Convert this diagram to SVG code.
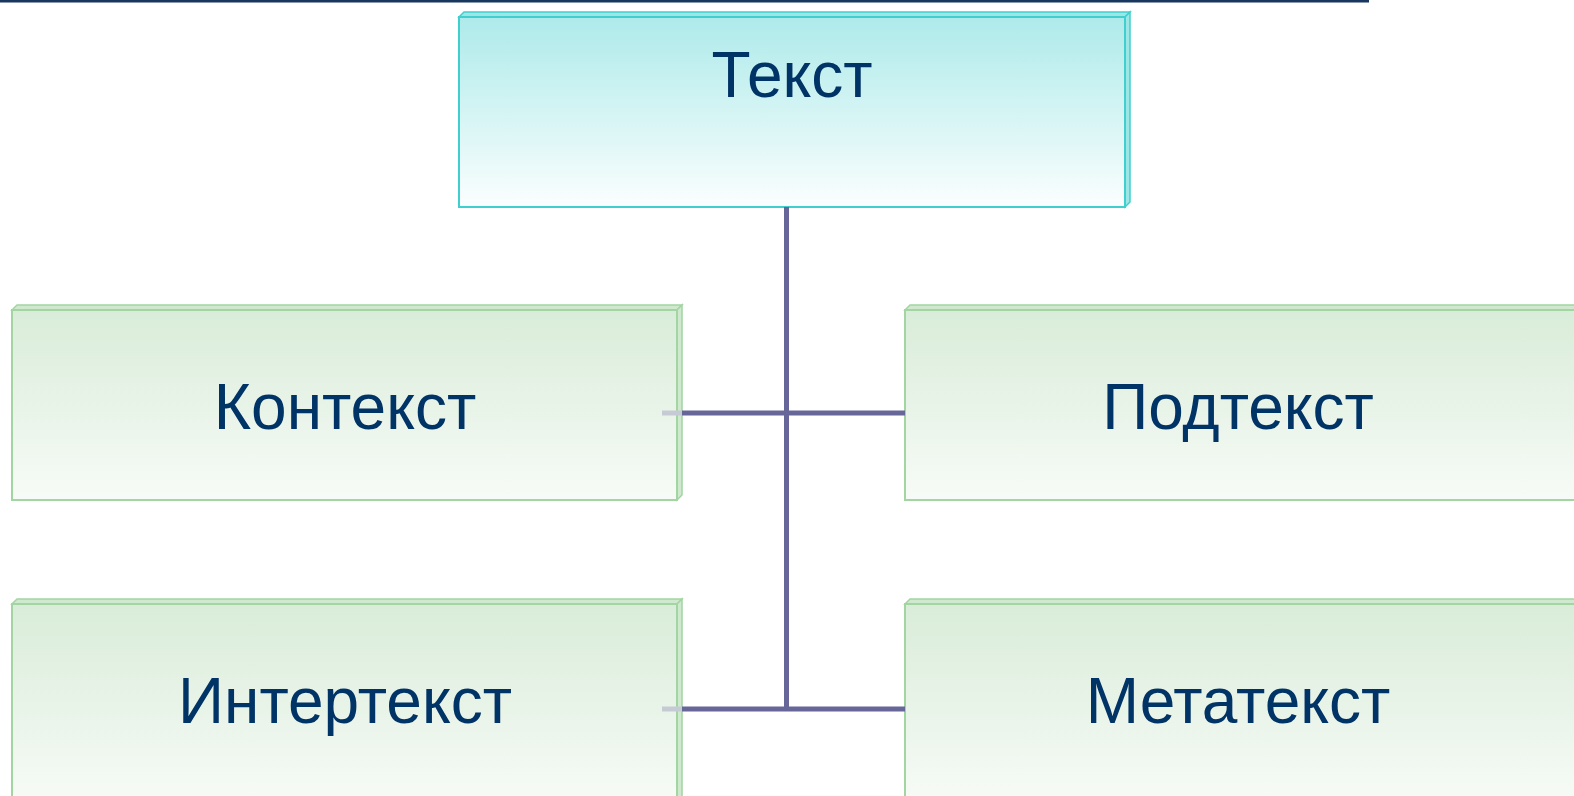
<svg xmlns="http://www.w3.org/2000/svg" width="1574" height="796" viewBox="0 0 1574 796">
<defs>
<linearGradient id="gTop" x1="0" y1="0" x2="0" y2="1">
<stop offset="0" stop-color="#aeeaea"/>
<stop offset="1" stop-color="#fbfefe"/>
</linearGradient>
<linearGradient id="gGreen" x1="0" y1="0" x2="0" y2="1">
<stop offset="0" stop-color="#d9ecd9"/>
<stop offset="1" stop-color="#f7fbf7"/>
</linearGradient>
<style>
.lbl{font-family:"Liberation Sans",Arial,sans-serif;font-size:64px;fill:#003366;text-anchor:middle}
.tface{fill:url(#gTop);stroke:#40cfcf;stroke-width:2}
.tbev{fill:#9ee6e6;stroke:#40cfcf;stroke-width:1.5}
.gface{fill:url(#gGreen);stroke:#a3d5a3;stroke-width:2}
.gbev{fill:#cfe9cf;stroke:#a3d5a3;stroke-width:1.5}
.con{stroke:#666699;stroke-width:5;fill:none}
.stub{stroke:#c5cad5;stroke-width:5;fill:none}
</style>
</defs>
<rect width="1574" height="796" fill="#ffffff"/>
<line x1="0" y1="1" x2="1369" y2="1" stroke="#17375e" stroke-width="3"/>
<g id="node-text">
<polygon class="tbev" points="459,17 464,12 1130,12 1125,17"/>
<polygon class="tbev" points="1125,17 1130,12 1130,202 1125,207"/>
<rect class="tface" x="459" y="17" width="666" height="190"/>
<text class="lbl" x="792" y="97">Текст</text>
</g>
<g id="node-context">
<polygon class="gbev" points="12,310 17,305 682,305 677,310"/>
<polygon class="gbev" points="677,310 682,305 682,495 677,500"/>
<rect class="gface" x="12" y="310" width="665" height="190"/>
<text class="lbl" x="345" y="429">Контекст</text>
</g>
<g id="node-subtext">
<polygon class="gbev" points="905,310 910,305 1580,305 1575,310"/>
<rect class="gface" x="905" y="310" width="680" height="190"/>
<text class="lbl" x="1238" y="429">Подтекст</text>
</g>
<g id="node-intertext">
<polygon class="gbev" points="12,604 17,599 682,599 677,604"/>
<polygon class="gbev" points="677,604 682,599 682,800 677,800"/>
<rect class="gface" x="12" y="604" width="665" height="200"/>
<text class="lbl" x="345" y="723">Интертекст</text>
</g>
<g id="node-metatext">
<polygon class="gbev" points="905,604 910,599 1580,599 1575,604"/>
<rect class="gface" x="905" y="604" width="680" height="200"/>
<text class="lbl" x="1238" y="723">Метатекст</text>
</g>
<g id="connectors">
<line class="stub" x1="662" y1="413" x2="682" y2="413"/>
<line class="stub" x1="662" y1="709" x2="682" y2="709"/>
<line class="con" x1="786.5" y1="207" x2="786.5" y2="711"/>
<line class="con" x1="682" y1="413" x2="905" y2="413"/>
<line class="con" x1="682" y1="709" x2="905" y2="709"/>
</g>
</svg>
